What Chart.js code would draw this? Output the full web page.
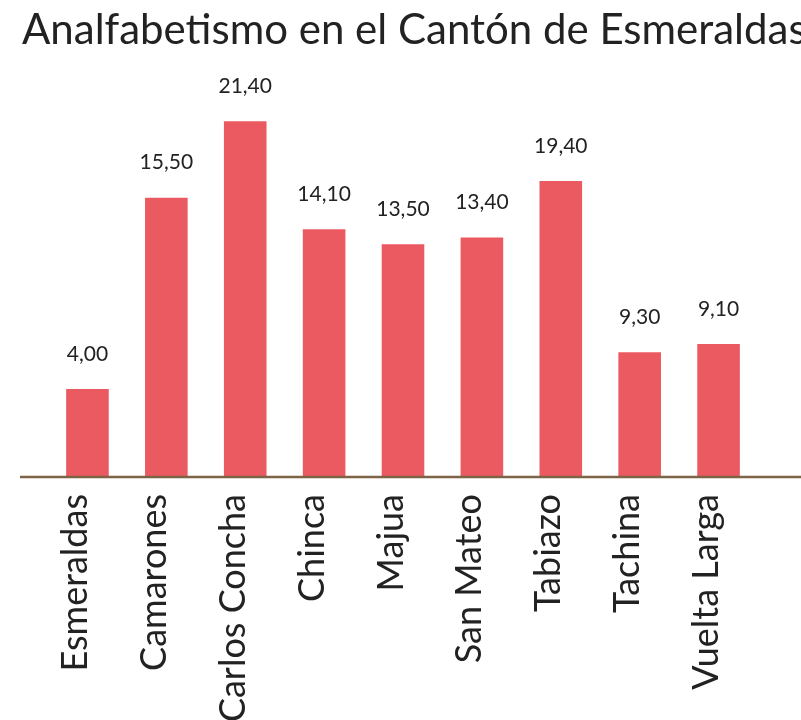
<!DOCTYPE html>
<html>
<head>
<meta charset="utf-8">
<script src="https://cdn.jsdelivr.net/npm/chart.js@4.4.1/dist/chart.umd.min.js"></script>
<style>
  body { margin: 0; background: #fff; overflow: hidden; }
  #wrap { position: relative; width: 801px; height: 720px; overflow: hidden; }
  #titulo {
    position: absolute; left: 22px; top: 3px; margin: 0;
    font-family: Lato, sans-serif; font-weight: 400; font-size: 42px;
    color: #222; white-space: nowrap;
  }
</style>
</head>
<body>
<div id="wrap">
  <h1 id="titulo">Analfabetismo en el Cantón de Esmeraldas</h1>
  <canvas id="graph1" width="801" height="720"></canvas>
</div>
<script>
// parroquias
var parroquias = ["Esmeraldas", "Camarones", "Carlos Concha", "Chinca", "Majua", "San Mateo", "Tabiazo", "Tachina", "Vuelta Larga"];
// etiquetas que muestra el grafico
var etiquetas = ["4,00", "15,50", "21,40", "14,10", "13,50", "13,40", "19,40", "9,30", "9,10"];
// largo de las barras tal como se ven (misma escala que 21,40)
var barras = [5.3, 16.8, 21.4, 14.9, 14.0, 14.4, 17.8, 7.5, 8.0];

// etiquetas encima de cada barra
const etiquetasPlugin = {
  id: 'etiquetas',
  afterDatasetsDraw(chart) {
    const ctx = chart.ctx;
    const meta = chart.getDatasetMeta(0);
    ctx.save();
    ctx.font = '21px Lato, sans-serif';
    ctx.fillStyle = '#222';
    ctx.textAlign = 'center';
    ctx.textBaseline = 'middle';
    meta.data.forEach(function(bar, i) {
      ctx.fillText(etiquetas[i], bar.x, bar.y - 35);
    });
    ctx.restore();
  }
};

// linea base marron que cruza todo el ancho
const lineaBase = {
  id: 'lineaBase',
  afterDatasetsDraw(chart) {
    const ctx = chart.ctx;
    const y = chart.scales.y.getPixelForValue(0);
    ctx.save();
    ctx.strokeStyle = '#7d6446';
    ctx.lineWidth = 2.5;
    ctx.beginPath();
    ctx.moveTo(20, y);
    ctx.lineTo(chart.width, y);
    ctx.stroke();
    ctx.restore();
  }
};

let graph1 = document.getElementById('graph1').getContext('2d');
const myChart = new Chart(graph1, {
  type: 'bar',
  data: {
    labels: parroquias,
    datasets: [{
      data: barras,
      backgroundColor: 'rgb(235, 90, 96)',
      borderWidth: 0,
      barPercentage: 0.54,
      categoryPercentage: 1
    }]
  },
  options: {
    responsive: false,
    animation: false,
    layout: { padding: { top: 78, left: 48, right: 43, bottom: 0 } },
    scales: {
      x: {
        grid: { display: false },
        border: { display: false },
        ticks: {
          minRotation: 90,
          maxRotation: 90,
          padding: 9,
          labelOffset: -12,
          color: '#222',
          font: { family: 'Lato', size: 36 }
        },
        afterFit(scale) { scale.height = 243; }
      },
      y: {
        display: false,
        min: 0,
        max: 24
      }
    },
    plugins: {
      legend: { display: false },
      tooltip: { enabled: false }
    }
  },
  plugins: [etiquetasPlugin, lineaBase]
});
</script>
</body>
</html>
